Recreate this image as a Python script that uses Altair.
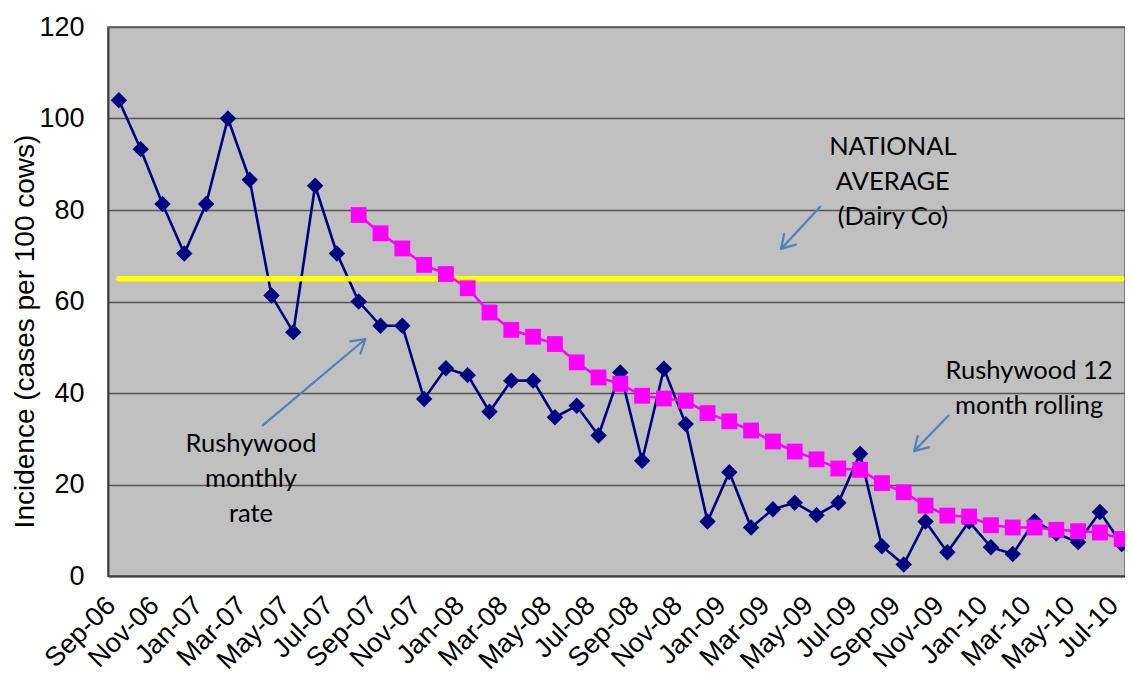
import altair as alt
import pandas as pd

months = ["Sep-06", "Oct-06", "Nov-06", "Dec-06", "Jan-07", "Feb-07", "Mar-07", "Apr-07",
          "May-07", "Jun-07", "Jul-07", "Aug-07", "Sep-07", "Oct-07", "Nov-07", "Dec-07",
          "Jan-08", "Feb-08", "Mar-08", "Apr-08", "May-08", "Jun-08", "Jul-08", "Aug-08",
          "Sep-08", "Oct-08", "Nov-08", "Dec-08", "Jan-09", "Feb-09", "Mar-09", "Apr-09",
          "May-09", "Jun-09", "Jul-09", "Aug-09", "Sep-09", "Oct-09", "Nov-09", "Dec-09",
          "Jan-10", "Feb-10", "Mar-10", "Apr-10", "May-10", "Jun-10", "Jul-10"]

monthly_rate = [104, 93.3, 81.3, 70.5, 81.3, 100, 86.6, 61.3, 53.3, 85.3, 70.5, 60.0,
                54.7, 54.7, 38.7, 45.4, 43.9, 35.9, 42.7, 42.7, 34.7, 37.2, 30.7, 44.5,
                25.2, 45.3, 33.2, 11.9, 22.7, 10.6, 14.6, 16.0, 13.3, 16.0, 26.7, 6.5,
                2.5, 11.9, 5.2, 11.9, 6.3, 4.8, 12.0, 9.3, 7.4, 14.0, 7.0]

rolling_first_month = "Aug-07"
rolling_12m = [78.9, 74.9, 71.6, 68.0, 66.0, 62.9, 57.6, 53.8, 52.3, 50.7, 46.7, 43.4,
               42.0, 39.4, 38.8, 38.3, 35.6, 33.8, 31.8, 29.4, 27.2, 25.5, 23.5, 23.2,
               20.3, 18.3, 15.4, 13.2, 13.0, 11.1, 10.6, 10.6, 10.1, 9.8, 9.5, 8.1]

national_average = 65

# annotations (month index, value of first text line)
note_text = ["NATIONAL\nAVERAGE\n(Dairy Co)", "Rushywood\nmonthly\nrate", "Rushywood 12\nmonth rolling"]
note_x = [35.5, 6.06, 41.75]
note_y = [93.8, 28.9, 44.8]
arrow_x0 = [32.2, 6.57, 38.08]
arrow_y0 = [80.9, 32.8, 35.2]
arrow_x1 = [30.37, 11.31, 36.48]
arrow_y1 = [71.5, 51.8, 27.3]
arrow_angle = [133, 320, 134]

idx = list(range(len(months)))
r0 = months.index(rolling_first_month)
df_m = pd.DataFrame({"i": idx, "month": months, "v": monthly_rate})
df_r = pd.DataFrame({"i": list(range(r0, r0 + len(rolling_12m))), "v": rolling_12m})
df_n = pd.DataFrame({"i": idx, "v": [national_average] * len(months)})
df_t = pd.DataFrame({"x": note_x, "y": note_y, "t": note_text})
df_a = pd.DataFrame({"x": arrow_x0, "y": arrow_y0, "x2": arrow_x1, "y2": arrow_y1, "a": arrow_angle})

label_arr = "[" + ",".join("'" + m + "'" for m in months) + "]"

xscale = alt.Scale(domain=[-0.5, 46.15], nice=False, zero=False)
yscale = alt.Scale(domain=[0, 120], nice=False)

x_axis = alt.Axis(values=idx[::2], labelExpr=label_arr + "[datum.value]",
                  labelAngle=315, labelAlign="right", labelBaseline="middle",
                  labelFont="Liberation Sans", labelFontSize=27, labelColor="black",
                  labelPadding=25, labelOffset=-8, ticks=False, grid=False,
                  domainColor="#404040", domainWidth=2, title=None, labelOverlap=False)
y_axis = alt.Axis(values=[0, 20, 40, 60, 80, 100, 120], labelFont="Liberation Sans",
                  labelFontSize=27, labelColor="black", labelPadding=24, ticks=False,
                  grid=True, gridColor="#555555", gridWidth=1.3,
                  domainColor="#404040", domainWidth=2,
                  title="Incidence (cases per 100 cows)", titleFont="Liberation Sans",
                  titleFontSize=28, titleFontWeight="normal", titleColor="black",
                  titleX=-83, titleY=304, titleAngle=270, titleBaseline="middle",
                  titleAlign="center")

base_x = alt.X("i:Q", scale=xscale, axis=x_axis)
base_y = alt.Y("v:Q", scale=yscale, axis=y_axis)

monthly_line = alt.Chart(df_m).mark_line(color="#000080", strokeWidth=2.6).encode(x=base_x, y=base_y)
monthly_pts = alt.Chart(df_m).mark_point(shape="diamond", filled=True, size=270, color="#000080", opacity=1).encode(
    x=alt.X("i:Q", scale=xscale), y=alt.Y("v:Q", scale=yscale))

nat_line = alt.Chart(df_n).mark_line(color="#FFFF00", strokeWidth=5.5, strokeCap="round").encode(
    x=alt.X("i:Q", scale=xscale), y=alt.Y("v:Q", scale=yscale))

roll_line = alt.Chart(df_r).mark_line(color="#FF00FF", strokeWidth=2.6).encode(
    x=alt.X("i:Q", scale=xscale), y=alt.Y("v:Q", scale=yscale))
roll_pts = alt.Chart(df_r).mark_point(shape="square", filled=True, size=250, color="#FF00FF", opacity=1).encode(
    x=alt.X("i:Q", scale=xscale), y=alt.Y("v:Q", scale=yscale))

arrow_shaft = alt.Chart(df_a).mark_rule(color="#4F81BD", strokeWidth=2.2).encode(
    x=alt.X("x:Q", scale=xscale), y=alt.Y("y:Q", scale=yscale), x2="x2:Q", y2="y2:Q")
arrow_head = alt.Chart(df_a).mark_point(shape="M-1,-0.6L0,0L-1,0.6", filled=False, size=700,
                                        color="#4F81BD", strokeWidth=2.2, opacity=1,
                                        strokeCap="round", strokeJoin="round").encode(
    x=alt.X("x2:Q", scale=xscale), y=alt.Y("y2:Q", scale=yscale),
    angle=alt.Angle("a:Q", scale=None))

notes = alt.Chart(df_t).mark_text(font="Lato", fontSize=25.5, color="black", lineBreak="\n",
                                  lineHeight=35, align="center", baseline="middle").encode(
    x=alt.X("x:Q", scale=xscale), y=alt.Y("y:Q", scale=yscale), text="t:N")

chart = alt.layer(monthly_line, monthly_pts, nat_line, roll_line, roll_pts,
                  arrow_shaft, arrow_head, notes).properties(
    width=1017, height=549,
    autosize=alt.AutoSizeParams(type="none"),
    padding={"left": 100, "top": 19, "right": 0, "bottom": 99},
).configure_view(fill="#C0C0C0", stroke="#808080", strokeWidth=2)

chart.save("out.html", embed_options={"renderer": "svg", "actions": False})
